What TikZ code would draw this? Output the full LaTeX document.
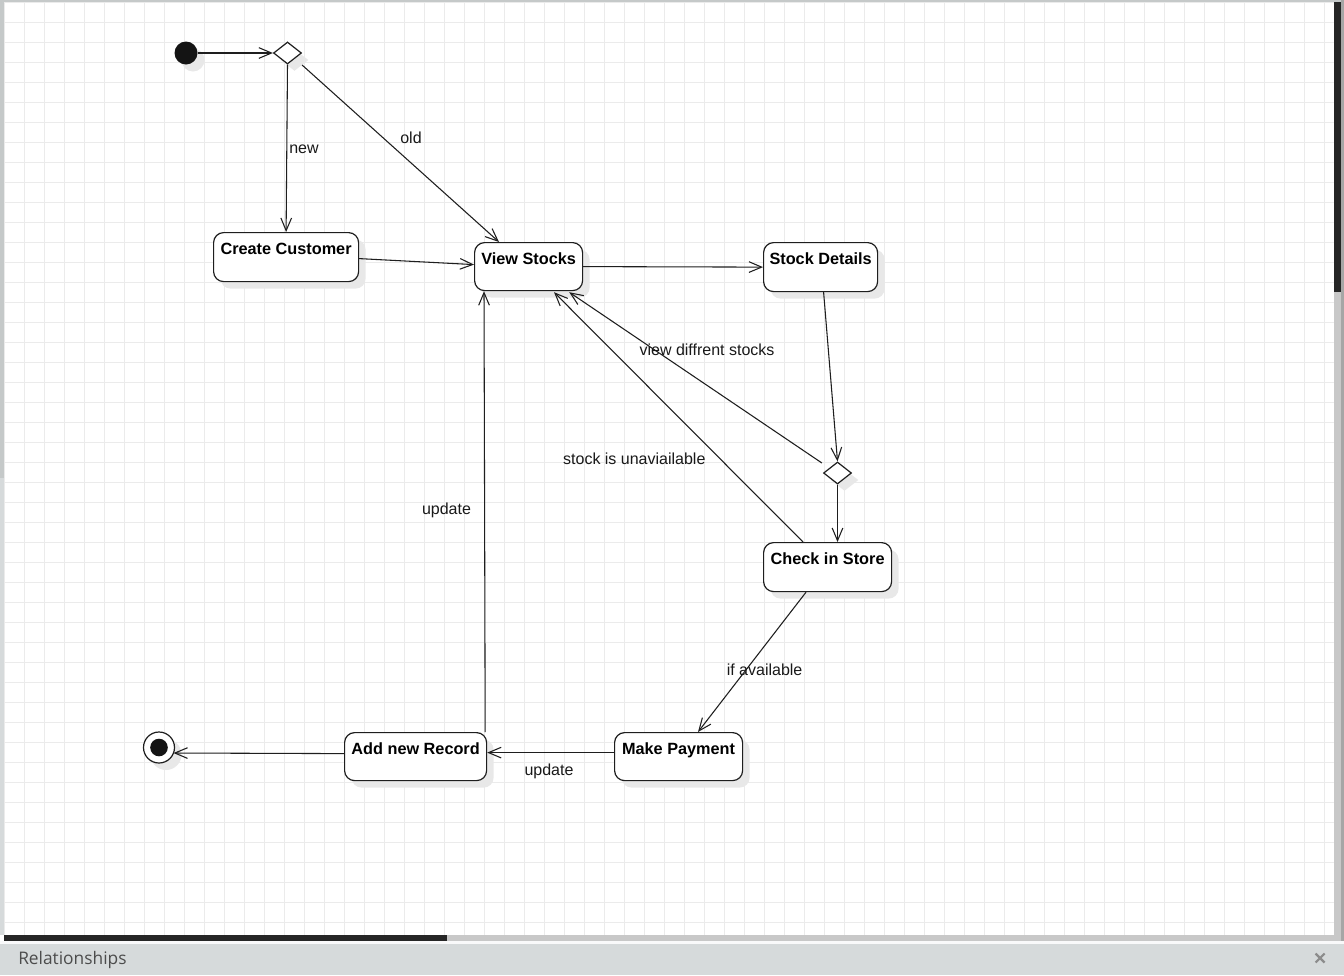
\documentclass[tikz,border=0pt]{standalone}
\usepackage{fontspec}
\setmainfont{Liberation Sans}
\newfontfamily\panelfont{Open Sans}
\usetikzlibrary{arrows.meta,calc,shapes.geometric,shadows}
\definecolor{gridc}{HTML}{EBEBEB}
\definecolor{shadowc}{HTML}{E8E8E8}
\definecolor{panelc}{HTML}{D6DADB}
\definecolor{stripc}{HTML}{C5C9C9}
\definecolor{stripl}{HTML}{D6DADB}
\definecolor{sbdark}{HTML}{262626}
\definecolor{sblight}{HTML}{C8C8C8}
\definecolor{linec}{HTML}{1E1E1E}
\begin{document}
\begin{tikzpicture}[x=0.75pt,y=-0.75pt,
  shad/.style={drop shadow={shadow xshift=5.25pt,shadow yshift=-5.25pt,fill=shadowc,opacity=1}},
  st/.style={draw=linec,line width=0.9pt,rounded corners=7.5pt,fill=white,inner sep=0pt,
    anchor=north west,font=\bfseries\fontsize{12.2pt}{14pt}\selectfont,text height=16.1pt,shad},
  dia/.style={diamond,draw=linec,line width=0.9pt,fill=white,inner sep=0pt,
    minimum width=21pt,minimum height=16.5pt,shad},
  ed/.style={draw=linec,line width=0.8pt,-{Straight Barb[length=9.5pt,width=8pt]}},
  lbl/.style={font=\fontsize{12pt}{14pt}\selectfont,anchor=base,inner sep=0pt,text=black!90}]
% background and frame
\useasboundingbox (0,0) rectangle (1344,975);
\fill[white] (0,0) rectangle (1344,975);
\foreach \i in {0,...,66} \draw[gridc,line width=0.75pt] (4.3+20*\i,2) -- (4.3+20*\i,935);
\foreach \j in {0,...,46} \draw[gridc,line width=0.75pt] (4,2.8+20*\j) -- (1334,2.8+20*\j);
\fill[stripc] (0,0) rectangle (1344,2);
\fill[stripc] (0,0) rectangle (4,478);
\fill[stripl] (0,478) rectangle (4,935);
% scrollbars
\fill[sbdark] (1334,2) rectangle (1341,292);
\fill[sblight] (1334,292) rectangle (1341,935);
\fill[black!35] (1341,0) rectangle (1344,943);
\fill[sbdark] (4,935) rectangle (447,941);
\fill[sblight] (447,935) rectangle (1341,941);
% bottom panel
\fill[white!85!panelc] (0,941) rectangle (1344,943.5);
\fill[panelc] (0,943.5) rectangle (1344,975);
\node[font=\panelfont\fontsize{13pt}{15pt}\selectfont,text=black!70,anchor=base west,inner sep=0pt] (rel) at (18,964.3) {Relationships};
\draw[black!45,line width=1.6pt] (1315.5,953.5) -- (1324.5,962.5) (1315.5,962.5) -- (1324.5,953.5);
% states
\node[circle,fill=black!92,minimum size=17.25pt,inner sep=0pt,shad] (init) at (186,53) {};
\node[dia] (d1) at (287.5,53) {};
\node[st,minimum width=108.75pt,text depth=20.65pt] (cc) at (213,232) {Create Customer};
\node[st,minimum width=81pt,text depth=19.9pt] (vs) at (474,242) {View Stocks};
\node[st,minimum width=85.5pt,text depth=20.65pt] (sd) at (763,242) {Stock Details};
\node[dia] (d2) at (837.5,473) {};
\node[st,minimum width=96pt,text depth=20.65pt] (cs) at (763,542) {Check in Store};
\node[st,minimum width=96pt,text depth=19.9pt] (mp) at (614,732) {Make Payment};
\node[st,minimum width=106.5pt,text depth=19.9pt] (ar) at (344,732) {Add new Record};
\node[circle,draw=linec,line width=0.9pt,fill=white,minimum size=23.25pt,inner sep=0pt,shad,
  path picture={\fill[black!92] (path picture bounding box.center) circle[radius=6.6pt];}] (fin) at (159,747.5) {};
% transitions
\draw[ed] (init) -- (d1);
\draw[ed] (d1.south) -- (cc.north);
\draw[ed] ($(d1.east)+(0,12)$) -- ($(vs.north west)+(25,0)$);
\draw[ed] ($(cc.east)+(0,1.5)$) -- ($(vs.west)+(0,-2)$);
\draw[ed] (vs.east) -- (sd.west);
\draw[ed] ($(sd.south)+(3,0)$) -- (d2.north);
\draw[ed] ($(d2.west)+(-1,-10)$) -- ($(vs.south east)+(-14,1)$);
\draw[ed] (d2.south) -- (d2.south |- cs.north);
\draw[ed] ($(cs.north west)+(40,0)$) -- ($(vs.south west)+(80,1)$);
\draw[ed] ($(cs.south west)+(43,0)$) -- ($(mp.north west)+(84,0)$);
\draw[ed] ($(mp.west)+(0,-4)$) -- ($(ar.east)+(0,-4)$);
\draw[ed] ($(ar.north east)+(-2,0)$) -- ($(vs.south west)+(10,0)$);
\draw[ed] ($(ar.west)+(0,-3)$) -- ($(fin.center)+(14.5,5.5)$);
% labels
\node[lbl] (lnew) at (304,153.3) {new};
\node[lbl] (lold) at (411,143.3) {old};
\node[lbl] (lview) at (707,355) {view diffrent stocks};
\node[lbl] (lun) at (634.3,464) {stock is unaviailable};
\node[lbl] (lup1) at (446.5,514) {update};
\node[lbl] (lav) at (764.6,675.7) {if available};
\node[lbl] (lup2) at (549,775) {update};
\end{tikzpicture}
\end{document}
